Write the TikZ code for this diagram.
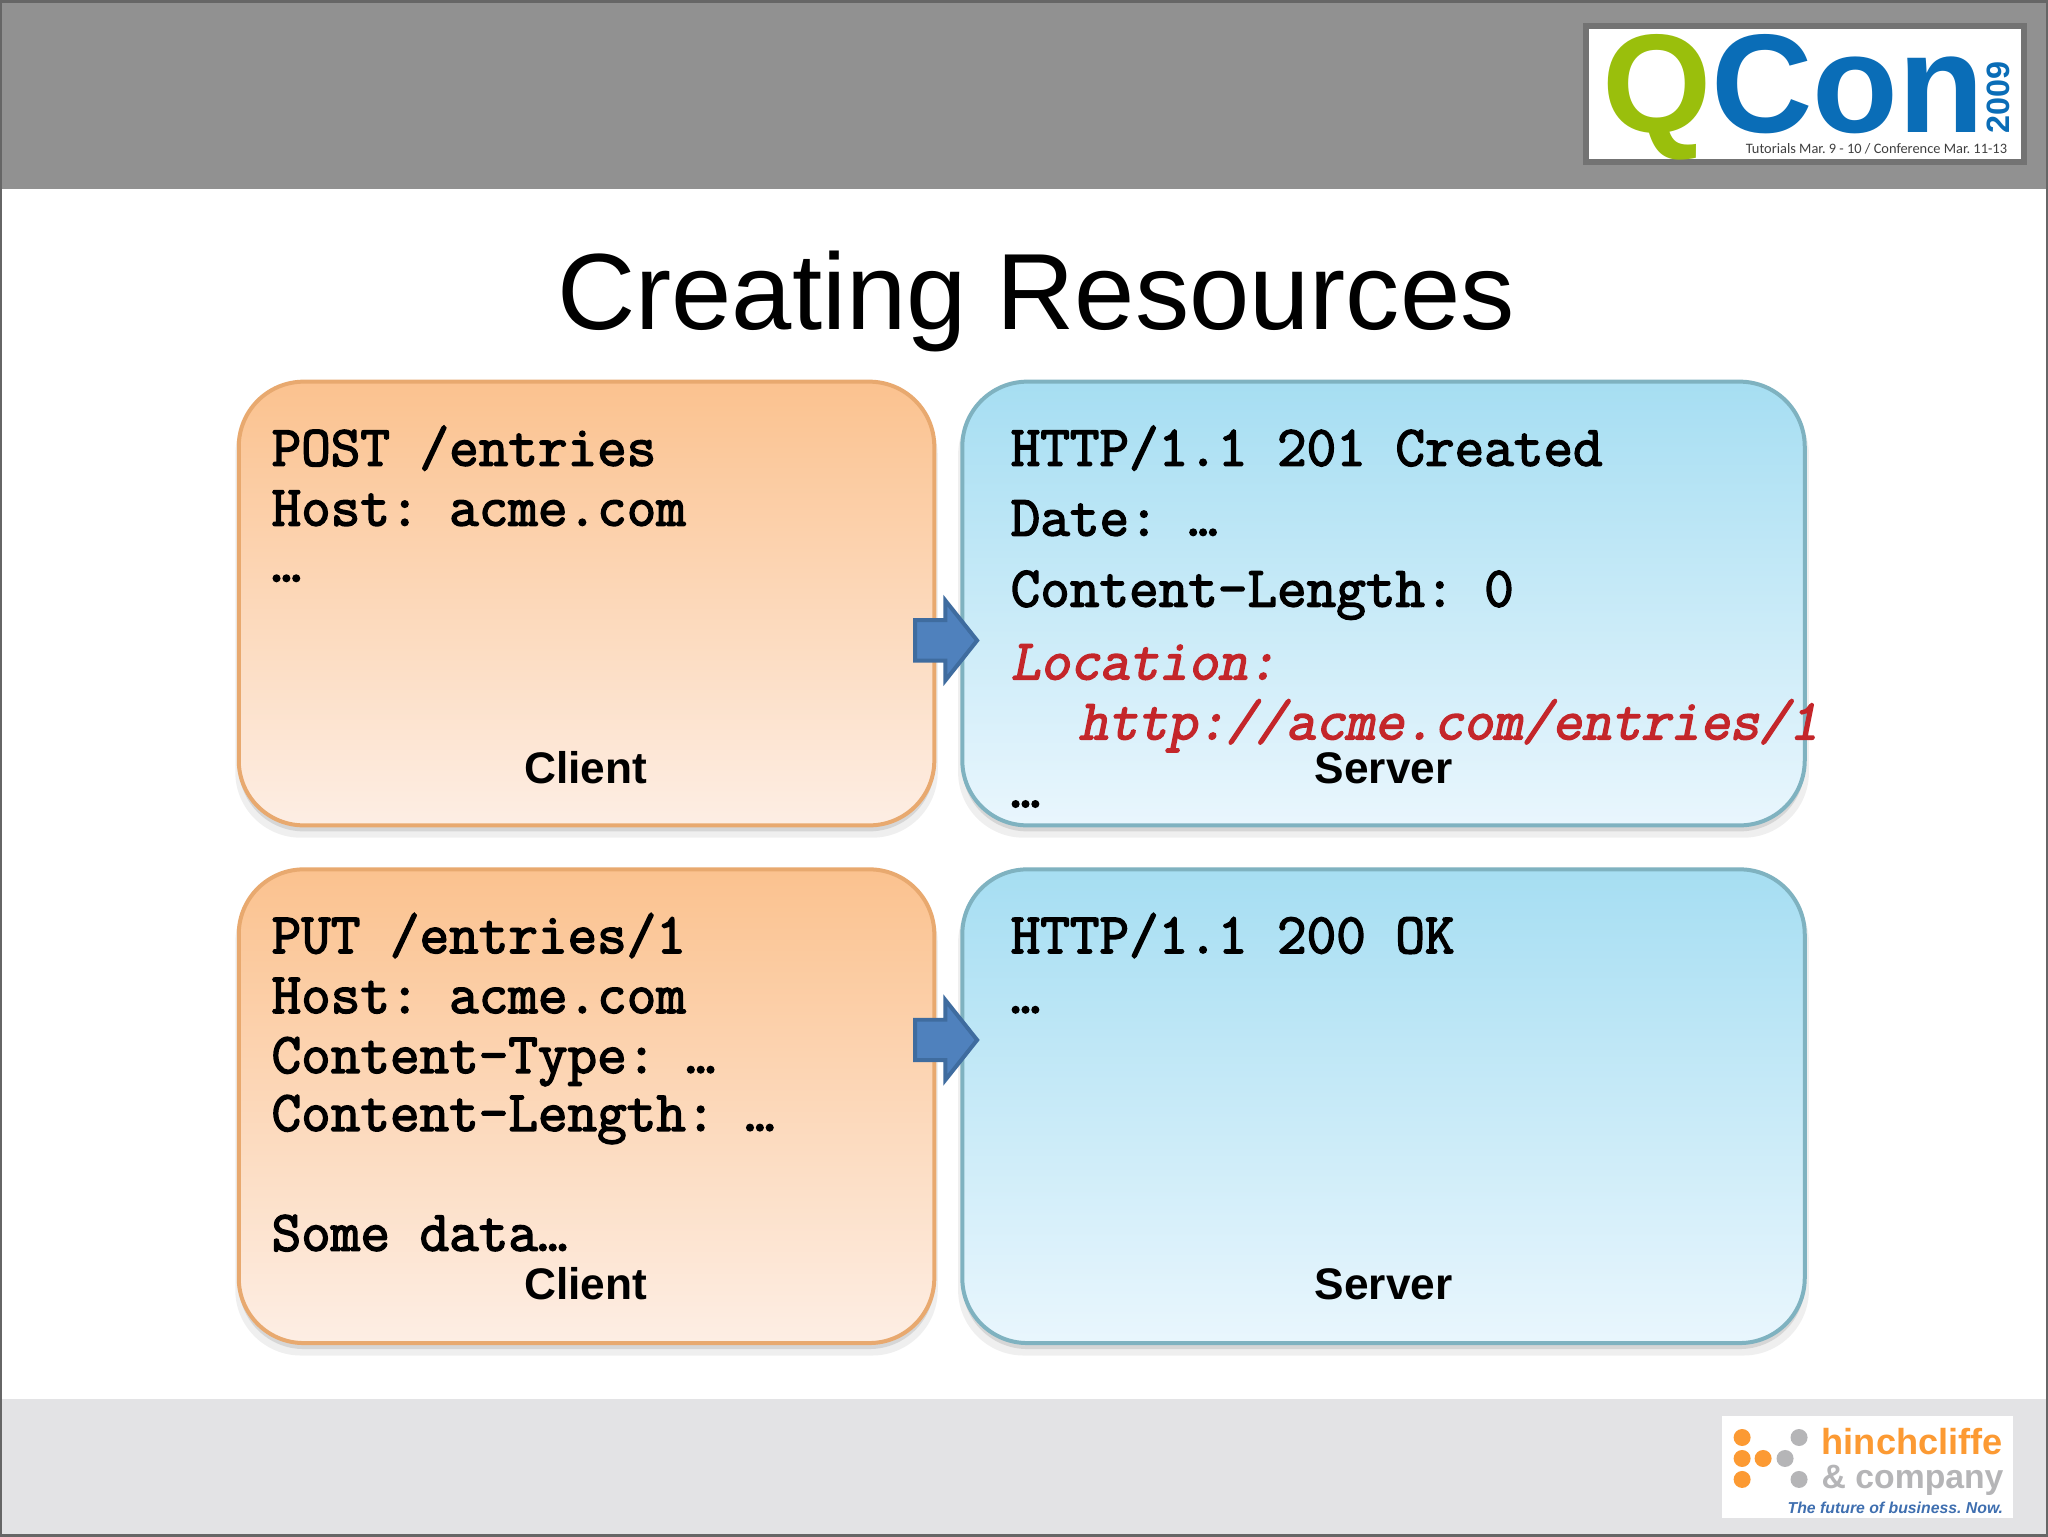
\documentclass[tikz,border=0pt]{standalone}
\usepackage{fontspec}
\setmainfont{Liberation Sans}
\newfontfamily\logofont{Carlito}
\newfontfamily\codefont[FakeBold=2.6]{Latin Modern Mono}
\newfontfamily\codeslant[FakeBold=2.6,FakeSlant=0.2]{Latin Modern Mono}
\usepackage{xcolor}
\usetikzlibrary{shapes.arrows,positioning,shadows}

\definecolor{hdrgray}{HTML}{919191}
\definecolor{ftrgray}{HTML}{E3E3E5}
\definecolor{qgreen}{HTML}{9ABF0C}
\definecolor{qblue}{HTML}{0A6DB7}
\definecolor{horange}{HTML}{FC9A33}
\definecolor{hgray}{HTML}{B5B5B7}
\definecolor{hblue}{HTML}{3F6FB0}
\definecolor{cltdraw}{HTML}{E8A96F}
\definecolor{clttop}{HTML}{FBC28F}
\definecolor{cltbot}{HTML}{FDEEE4}
\definecolor{srvdraw}{HTML}{7FB2C0}
\definecolor{srvtop}{HTML}{A6DEF2}
\definecolor{srvbot}{HTML}{E9F6FD}
\definecolor{arwfill}{HTML}{4F81BD}
\definecolor{arwdraw}{HTML}{3F6C9F}
\definecolor{locred}{HTML}{C4262A}

\begin{document}
\frenchspacing
\begin{tikzpicture}[
  x=0.01cm, y=-0.01cm,
  box/.style={draw, line width=0.4mm, rounded corners=0.65cm, inner sep=0pt,
    drop shadow={shadow xshift=0cm, shadow yshift=-0.10cm, shadow scale=1.01, opacity=0.12},
    drop shadow={shadow xshift=0cm, shadow yshift=-0.06cm, opacity=0.22}},
  clt/.style={box, draw=cltdraw, top color=clttop, bottom color=cltbot, minimum width=6.96cm},
  srv/.style={box, draw=srvdraw, top color=srvtop, bottom color=srvbot, minimum width=8.43cm},
  ln/.style={anchor=base west, inner sep=0pt, font=\fontsize{16.36}{16.36}\selectfont\codefont},
  loc/.style={ln, font=\fontsize{16.36}{16.36}\selectfont\codeslant, text=locred},
  lbl/.style={anchor=base, inner sep=0pt, font=\fontsize{12.6}{12.6}\selectfont\bfseries},
  arw/.style={single arrow, draw=arwdraw, line width=0.4mm, fill=arwfill, inner xsep=0pt, inner ysep=0pt, minimum width=0.80cm, minimum height=0.62cm, single arrow head extend=0.19cm, single arrow tip angle=103},
  dot/.style={circle, inner sep=0pt, minimum size=0.17cm}
]

\fill[white] (0,0) rectangle (2048,1536);
\fill[hdrgray] (0,0) rectangle (2048,188);
\fill[ftrgray] (0,1399) rectangle (2048,1536);
\draw[black!60, line width=0.25mm] (0,0) rectangle (2048,1536);
\useasboundingbox (0,0) rectangle (2048,1536);

\node[font=\fontsize{30.85}{30.85}\selectfont, anchor=base, inner sep=0pt] (title) at (1036,329) {Creating Resources};

\node[clt, minimum height=4.44cm] (post) at (586,603) {};
\node[srv, minimum height=4.44cm, right=0.24cm of post] (created) {};
\node[clt, minimum height=4.74cm, below=0.40cm of post] (put) {};
\node[srv, minimum height=4.74cm, right=0.24cm of put] (ok) {};

\node[arw] (postarw) at (938,640) {\rule{0pt}{0.35cm}};
\node[arw] (putarw) at (938,1040) {\rule{0pt}{0.35cm}};

\node[ln] (post1) at (270,465) {POST /entries};
\node[ln] (post2) at (270,525) {Host: acme.com};
\node[ln] (post3) at (270,581) {…};
\node[lbl] (postlbl) at (585,783) {Client};

\node[ln] (created1) at (1010,465) {HTTP/1.1 201 Created};
\node[ln] (created2) at (1010,535) {Date: …};
\node[ln] (created3) at (1010,606) {Content-Length: 0};
\node[loc] (created4) at (1010,679) {Location:};
\node[loc] (created5) at (1078,739) {http://acme.com/entries/1};
\node[ln] (created6) at (1010,807) {…};
\node[lbl] (createdlbl) at (1384,783) {Server};

\node[ln] (put1) at (270,953) {PUT /entries/1};
\node[ln] (put2) at (270,1013) {Host: acme.com};
\node[ln] (put3) at (270,1073) {Content-Type: …};
\node[ln] (put4) at (270,1131) {Content-Length: …};
\node[ln] (put5) at (270,1251) {Some data…};
\node[lbl] (putlbl) at (585,1300) {Client};

\node[ln] (ok1) at (1010,953) {HTTP/1.1 200 OK};
\node[ln] (ok2) at (1010,1013) {…};
\node[lbl] (oklbl) at (1384,1300) {Server};

\draw[black!55, line width=0.6mm, fill=white] (1587,25) rectangle (2025,161);
\node[anchor=base west, inner sep=0pt, font=\fontsize{40}{40}\selectfont\bfseries, text=qblue] (qcon) at (1602,131) {\textcolor{qgreen}{Q}Con};
\node[anchor=base west, rotate=90, inner sep=0pt, font=\fontsize{9.2}{9.2}\selectfont\bfseries, text=qblue] (qyear) at (2011,133) {2009};
\node[anchor=base east, inner sep=0pt, font=\fontsize{4.1}{4.1}\selectfont\logofont, text=black!75] (qdates) at (2009,152) {Tutorials Mar. 9 - 10 / Conference Mar. 11-13};

\fill[white] (1723,1416) rectangle (2014,1519);
\node[dot, fill=horange] (ho1) at (1743,1438) {};
\node[dot, fill=horange] (ho2) at (1743,1459) {};
\node[dot, fill=horange] (ho3) at (1764,1459) {};
\node[dot, fill=horange] (ho4) at (1743,1480) {};
\node[dot, fill=hgray] (hg1) at (1800,1438) {};
\node[dot, fill=hgray] (hg2) at (1786,1459) {};
\node[dot, fill=hgray] (hg3) at (1800,1480) {};
\node[anchor=base west, inner sep=0pt, font=\fontsize{10.3}{10.3}\selectfont\bfseries, text=horange] (hname) at (1822,1455) {hinchcliffe};
\node[anchor=base west, inner sep=0pt, font=\fontsize{9.6}{9.6}\selectfont\bfseries, text=hgray] (hco) at (1822,1489) {\& company};
\node[anchor=base east, inner sep=0pt, font=\fontsize{4.5}{4.5}\selectfont\bfseries\itshape, text=hblue] (htag) at (2005,1514) {The future of business. Now.};

\end{tikzpicture}
\end{document}
